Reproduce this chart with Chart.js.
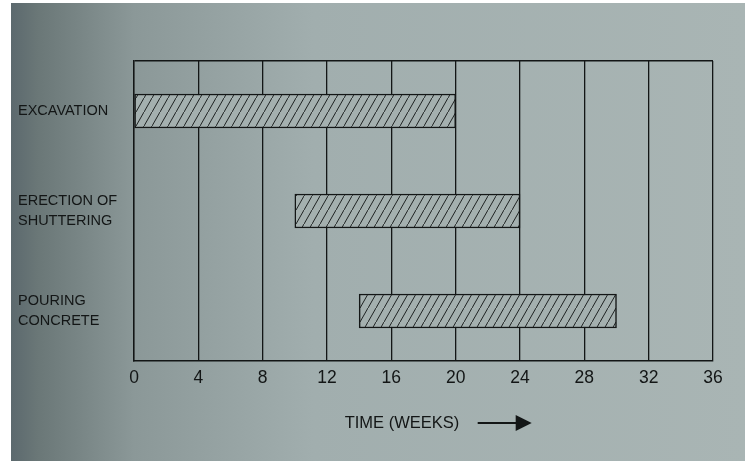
<!DOCTYPE html>
<html>
<head>
<meta charset="utf-8">
<script src="https://cdn.jsdelivr.net/npm/chart.js@4/dist/chart.umd.min.js"></script>
<style>
  html, body { margin: 0; padding: 0; background: #a9b5b4; }
  #wrap { width: 745px; height: 461px; }
</style>
</head>
<body>
<div id="wrap"><canvas id="gantt" width="745" height="461"></canvas></div>
<script>
// activities and their start / finish week
const activities = [['EXCAVATION'], ['ERECTION OF', 'SHUTTERING'], ['POURING', 'CONCRETE']];
const startWeek = [0, 10, 14];
const endWeek = [20, 24, 30];
const weekTicks = [0, 4, 8, 12, 16, 20, 24, 28, 32, 36];

const ink = '#131616';
const paper = '#a4b0af';

// diagonal hatch like the printed figure
function hatch() {
    const c = document.createElement('canvas');
    c.width = 8;
    c.height = 14;
    const g = c.getContext('2d');
    g.fillStyle = paper;
    g.fillRect(0, 0, 8, 14);
    g.strokeStyle = '#1f2323';
    g.lineWidth = 1;
    g.beginPath();
    g.moveTo(-1, 15.75);
    g.lineTo(9, -1.75);
    g.stroke();
    return g.createPattern(c, 'repeat');
}

// photographed page: darker towards the left, white margin strip
const paperBg = {
    id: 'paperBg',
    beforeDraw(chart) {
        const ctx = chart.ctx;
        const w = chart.width, h = chart.height;
        const grad = ctx.createLinearGradient(0, 0, w, 0);
        grad.addColorStop(0, '#56636a');
        grad.addColorStop(0.05, '#6a7777');
        grad.addColorStop(0.18, '#8b9898');
        grad.addColorStop(0.42, '#a1aeae');
        grad.addColorStop(1, '#a9b5b4');
        ctx.save();
        ctx.fillStyle = grad;
        ctx.fillRect(0, 0, w, h);
        ctx.fillStyle = '#ffffff';
        ctx.fillRect(0, 0, 11, h);
        ctx.fillRect(0, 0, w, 3);
        ctx.restore();
    }
};

// axis caption with the arrow after it
const timeCaption = {
    id: 'timeCaption',
    afterDraw(chart) {
        const ctx = chart.ctx;
        const x = chart.scales.x;
        const left = x.getPixelForValue(13.1);
        const y = chart.chartArea.bottom + 62;
        ctx.save();
        ctx.fillStyle = ink;
        ctx.font = '16.5px "Liberation Sans", Arial, sans-serif';
        ctx.textBaseline = 'middle';
        ctx.fillText('TIME (WEEKS)', left, y);
        const a0 = left + 133;
        ctx.strokeStyle = ink;
        ctx.lineWidth = 2;
        ctx.beginPath();
        ctx.moveTo(a0, y);
        ctx.lineTo(a0 + 40, y);
        ctx.stroke();
        ctx.beginPath();
        ctx.moveTo(a0 + 38, y - 8);
        ctx.lineTo(a0 + 54, y);
        ctx.lineTo(a0 + 38, y + 8);
        ctx.closePath();
        ctx.fill();
        ctx.restore();
    }
};

const ctx = document.getElementById('gantt').getContext('2d');
new Chart(ctx, {
    type: 'bar',
    data: {
        labels: activities,
        datasets: [{
            data: startWeek.map((s, i) => [s, endWeek[i]]),
            backgroundColor: hatch(),
            borderColor: ink,
            borderWidth: 1.5,
            borderSkipped: false,
            barThickness: 34
        }]
    },
    options: {
        indexAxis: 'y',
        responsive: false,
        animation: false,
        layout: { padding: { left: 18, right: 32, top: 61, bottom: 0 } },
        plugins: {
            legend: { display: false },
            tooltip: { enabled: false }
        },
        scales: {
            x: {
                type: 'linear',
                min: 0,
                max: 36,
                afterBuildTicks: (scale) => {
                    scale.ticks = weekTicks.map(v => ({ value: v }));
                },
                afterFit: (scale) => { scale.height = 100; },
                grid: {
                    color: ink,
                    lineWidth: 1.3,
                    drawTicks: false
                },
                border: { color: ink, width: 1.6 },
                ticks: {
                    color: ink,
                    padding: 7,
                    maxRotation: 0,
                    font: { family: '"Liberation Sans", Arial, sans-serif', size: 17.5 }
                }
            },
            y: {
                afterFit: (scale) => { scale.width = 116; },
                grid: {
                    color: (c) => c.index === 0 ? ink : 'rgba(0,0,0,0)',
                    lineWidth: 1.4,
                    drawTicks: false
                },
                border: { color: ink, width: 1.4 },
                ticks: {
                    color: ink,
                    crossAlign: 'far',
                    padding: 0,
                    font: { family: '"Liberation Sans", Arial, sans-serif', size: 14.5, lineHeight: 1.35 }
                }
            }
        }
    },
    plugins: [paperBg, timeCaption]
});
</script>
</body>
</html>
